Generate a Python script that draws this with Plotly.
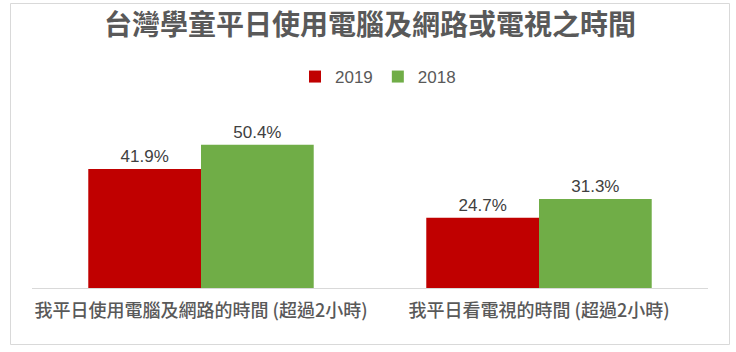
import plotly.graph_objects as go

categories = ["我平日使用電腦及網路的時間 (超過2小時)", "我平日看電視的時間 (超過2小時)"]
series_names = ["2019", "2018"]
values_2019 = [41.9, 24.7]
values_2018 = [50.4, 31.3]
colors = ["#C00000", "#70AD47"]

W, H = 736, 352
ml, mr, mt, mb = 32, 28, 100, 64
pw = W - ml - mr
ph = H - mt - mb

font_fam = "Liberation Sans, Arial, Noto Sans CJK TC, sans-serif"
cjk_fam = "Noto Sans CJK TC, Liberation Sans, sans-serif"

fig = go.Figure()
for name, vals, col in zip(series_names, [values_2019, values_2018], colors):
    fig.add_trace(go.Bar(
        name=name, x=categories, y=vals, marker=dict(color=col, line=dict(width=0)),
        text=[f"{v:.1f}%" for v in vals], textposition="outside",
        textfont=dict(size=17, color="#404040", family=font_fam),
        cliponaxis=False,
    ))

def px_x(p):
    return (p - ml) / pw

def px_y(p):
    return (H - mb - p) / ph

fig.update_layout(
    width=W, height=H,
    margin=dict(l=ml, r=mr, t=mt, b=mb),
    paper_bgcolor="white", plot_bgcolor="white",
    barmode="group", bargap=0.333, bargroupgap=0,
    title=dict(text="<b>台灣學童平日使用電腦及網路或電視之時間</b>", x=370 / W, xanchor="center",
               y=1 - 25 / H, yanchor="middle",
               font=dict(size=28, color="#595959", family=cjk_fam)),
    legend=dict(orientation="h", x=px_x(378), xanchor="center", y=px_y(77), yanchor="middle",
                font=dict(size=17, color="#595959", family=font_fam),
                itemwidth=30, traceorder="normal", bgcolor="rgba(0,0,0,0)"),
    xaxis=dict(showline=True, linecolor="#D9D9D9", linewidth=1, ticks="",
               tickfont=dict(size=18, color="#595959", family=cjk_fam, weight=500),
               ticklabelstandoff=6, showgrid=False),
    yaxis=dict(range=[0, ph / 2.84], visible=False, showgrid=False),
    showlegend=True,
    shapes=[dict(type="rect", xref="paper", yref="paper",
                 x0=px_x(10.5), x1=px_x(729.5), y0=px_y(344.5), y1=px_y(3.5),
                 line=dict(color="#D9D9D9", width=1), fillcolor="rgba(0,0,0,0)", layer="below")],
)

fig.write_html("out.html")
